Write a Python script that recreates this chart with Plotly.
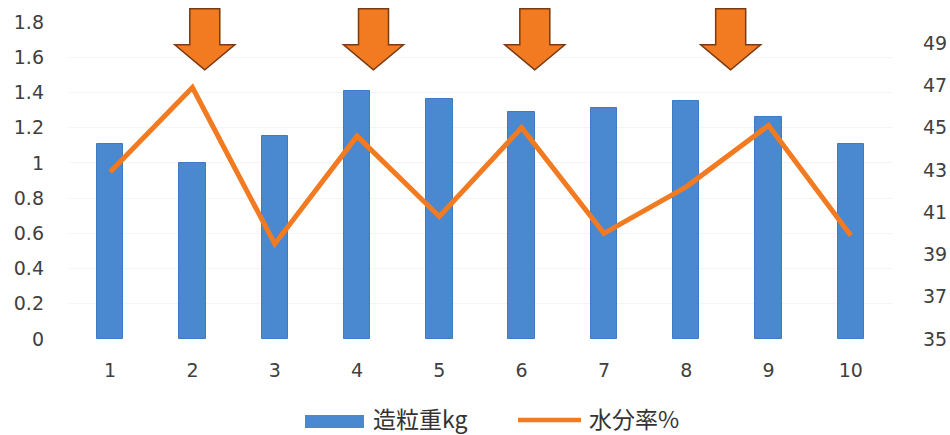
import plotly.graph_objects as go

# 試験番号
trials = [1, 2, 3, 4, 5, 6, 7, 8, 9, 10]
# 造粒重 (kg)
granule_kg = [1.11, 1.00, 1.15, 1.41, 1.36, 1.29, 1.31, 1.35, 1.26, 1.11]
# 水分率 (%)
moisture_pct = [42.9, 46.9, 39.5, 44.6, 40.8, 45.0, 40.0, 42.2, 45.1, 39.9]

left_ticks = [0, 0.2, 0.4, 0.6, 0.8, 1, 1.2, 1.4, 1.6, 1.8]
left_ticktext = ["0", "0.2", "0.4", "0.6", "0.8", "1", "1.2", "1.4", "1.6", "1.8"]
right_ticks = [35, 37, 39, 41, 43, 45, 47, 49]

bar_name = "造粒重kg"
line_name = "水分率%"

# 注目する試験の位置を示す矢印
arrow_x = [2.15, 4.2, 6.16, 8.54]

BLUE = "#4A89CF"
ORANGE = "#F27B21"
TEXT = "#404040"
TICK_FONT = dict(family="DejaVu Sans", size=19, color=TEXT)
CJK = "Noto Sans CJK JP"

fig = go.Figure()
fig.add_trace(go.Bar(
    x=trials, y=granule_kg, name=bar_name, width=0.32,
    marker=dict(color=BLUE, line=dict(color="#3E7BC0", width=1)),
    yaxis="y", showlegend=False,
))
fig.add_trace(go.Scatter(
    x=trials, y=moisture_pct, name=line_name, mode="lines",
    line=dict(color=ORANGE, width=5),
    yaxis="y2", showlegend=False,
))

# 下向きブロック矢印 (先端を基準点とするピクセル座標)
arrow_path = "M0,0 L-30,25 L-15,25 L-15,61 L15,61 L15,25 L30,25 Z"
shapes = []
for ax_x in arrow_x:
    shapes.append(dict(
        type="path", path=arrow_path,
        xref="x", yref="paper", xsizemode="pixel", ysizemode="pixel",
        xanchor=ax_x, yanchor=0.849,
        fillcolor=ORANGE, line=dict(color="#7A3A12", width=1.5),
        layer="above",
    ))

# 凡例 (横長の色見本 + 系列名)
shapes.append(dict(type="rect", xref="paper", yref="paper",
                   x0=(305 - 69) / 823, x1=(364 - 69) / 823,
                   y0=(339 - 428) / 317, y1=(339 - 415) / 317,
                   fillcolor=BLUE, line=dict(width=0)))
shapes.append(dict(type="line", xref="paper", yref="paper",
                   x0=(518 - 69) / 823, x1=(581 - 69) / 823,
                   y0=(339 - 420) / 317, y1=(339 - 420) / 317,
                   line=dict(color=ORANGE, width=4.5)))
annotations = [
    dict(text=bar_name, xref="paper", yref="paper",
         x=(371 - 69) / 823, y=(339 - 418) / 317, xanchor="left", yanchor="middle",
         showarrow=False, font=dict(family=CJK, size=23, color="#333333")),
    dict(text=line_name, xref="paper", yref="paper",
         x=(587 - 69) / 823, y=(339 - 418) / 317, xanchor="left", yanchor="middle",
         showarrow=False, font=dict(family=CJK, size=23, color="#333333")),
]

fig.update_layout(
    width=950, height=435,
    margin=dict(l=69, r=58, t=22, b=96, autoexpand=False),
    paper_bgcolor="white", plot_bgcolor="white",
    bargap=0,
    showlegend=False,
    xaxis=dict(
        range=[0.5, 10.5], tickmode="array", tickvals=trials,
        ticktext=[str(t) for t in trials],
        showgrid=False, zeroline=False, showline=False, automargin=False,
        ticks="", tickfont=TICK_FONT, ticklabelstandoff=18,
    ),
    yaxis=dict(
        range=[0, 1.8], tickmode="array", tickvals=left_ticks, ticktext=left_ticktext,
        showgrid=True, gridcolor="#F4F4F4", gridwidth=1, zeroline=False,
        showline=False, automargin=False,
        ticks="", tickfont=TICK_FONT, ticklabelstandoff=24,
    ),
    yaxis2=dict(
        range=[35, 50], tickmode="array", tickvals=right_ticks,
        overlaying="y", side="right", showgrid=False, zeroline=False,
        showline=False, automargin=False,
        ticks="", tickfont=TICK_FONT, ticklabelstandoff=30,
    ),
    shapes=shapes,
    annotations=annotations,
)

fig.write_html("out.html")
